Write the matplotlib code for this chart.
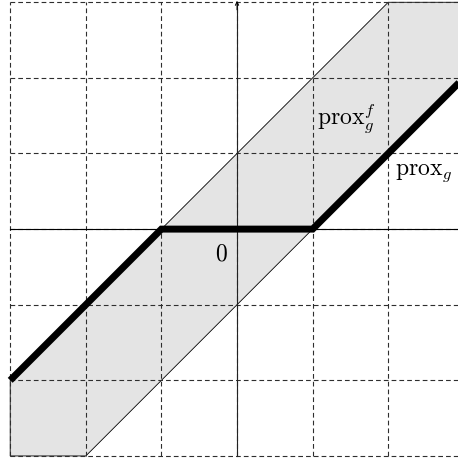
"""
plot.py — prox_g (soft threshold) inside the prox_g^f band.
"""

import matplotlib
matplotlib.use("Agg")
import matplotlib.pyplot as plt
from matplotlib.patches import Polygon

plt.rcParams["mathtext.fontset"] = "cm"
plt.rcParams["lines.scale_dashes"] = False

# grid ticks (data units)
grid_x = [-3, -2, -1, 0, 1, 2, 3]
grid_y = [-3, -2, -1, 0, 1, 2, 3]

# shaded band between y = x - 1 and y = x + 1, clipped to the box
band_x = [-3, -3, -2, 3, 3, 2]
band_y = [-2, -3, -3, 2, 3, 3]

# prox_g: soft threshold
prox_x = [-3, -1, 1, 3]
prox_y = [-2, 0, 0, 2]

XLIM = (-3.135, 2.923)
YLIM = (-3.08, 3.03)


def main() -> None:
    fig = plt.figure(figsize=(4.58, 4.62), dpi=100)
    ax = fig.add_axes([0, 0, 1, 1])
    ax.set_xlim(*XLIM)
    ax.set_ylim(*YLIM)
    ax.axis("off")

    band = Polygon(list(zip(band_x, band_y)), closed=True,
                   facecolor="#e4e4e4", edgecolor="black", linewidth=0.6,
                   zorder=1)
    ax.add_patch(band)

    # dashed grid
    for gx in grid_x:
        ax.plot([gx, gx], [grid_y[0], grid_y[-1]], color="#2e2e2e",
                linewidth=0.8, linestyle=(0, (3.4, 2.2)), zorder=2)
    for gy in grid_y:
        ax.plot([grid_x[0], grid_x[-1]], [gy, gy], color="#2e2e2e",
                linewidth=0.8, linestyle=(0, (3.4, 2.2)), zorder=2)

    # axes
    ax.plot([grid_x[0], XLIM[1]], [0, 0], color="black", linewidth=0.8, zorder=3)
    ax.plot([0, 0], [grid_y[0], 3.0], color="#222222", linewidth=0.8, zorder=3)
    ax.annotate("", xy=(0, 3.02), xytext=(0, 2.9),
                arrowprops=dict(arrowstyle="->,head_length=0.25,head_width=0.12",
                                color="black", linewidth=0.7,
                                shrinkA=0, shrinkB=0),
                zorder=3)

    ax.plot(prox_x, prox_y, color="black", linewidth=5.0,
            solid_capstyle="butt", solid_joinstyle="miter", zorder=4)

    ax.text(-0.2, -0.32, "$0$", fontsize=17, ha="center", va="center", zorder=5)
    ax.text(1.06, 1.376, r"$\mathrm{prox}_g^f$", fontsize=17,
            ha="left", va="baseline", zorder=5)
    ax.text(2.09, 0.714, r"$\mathrm{prox}_g$", fontsize=17,
            ha="left", va="baseline", zorder=5)

    fig.savefig("out.png", dpi=100)
    plt.close(fig)


if __name__ == "__main__":
    main()
